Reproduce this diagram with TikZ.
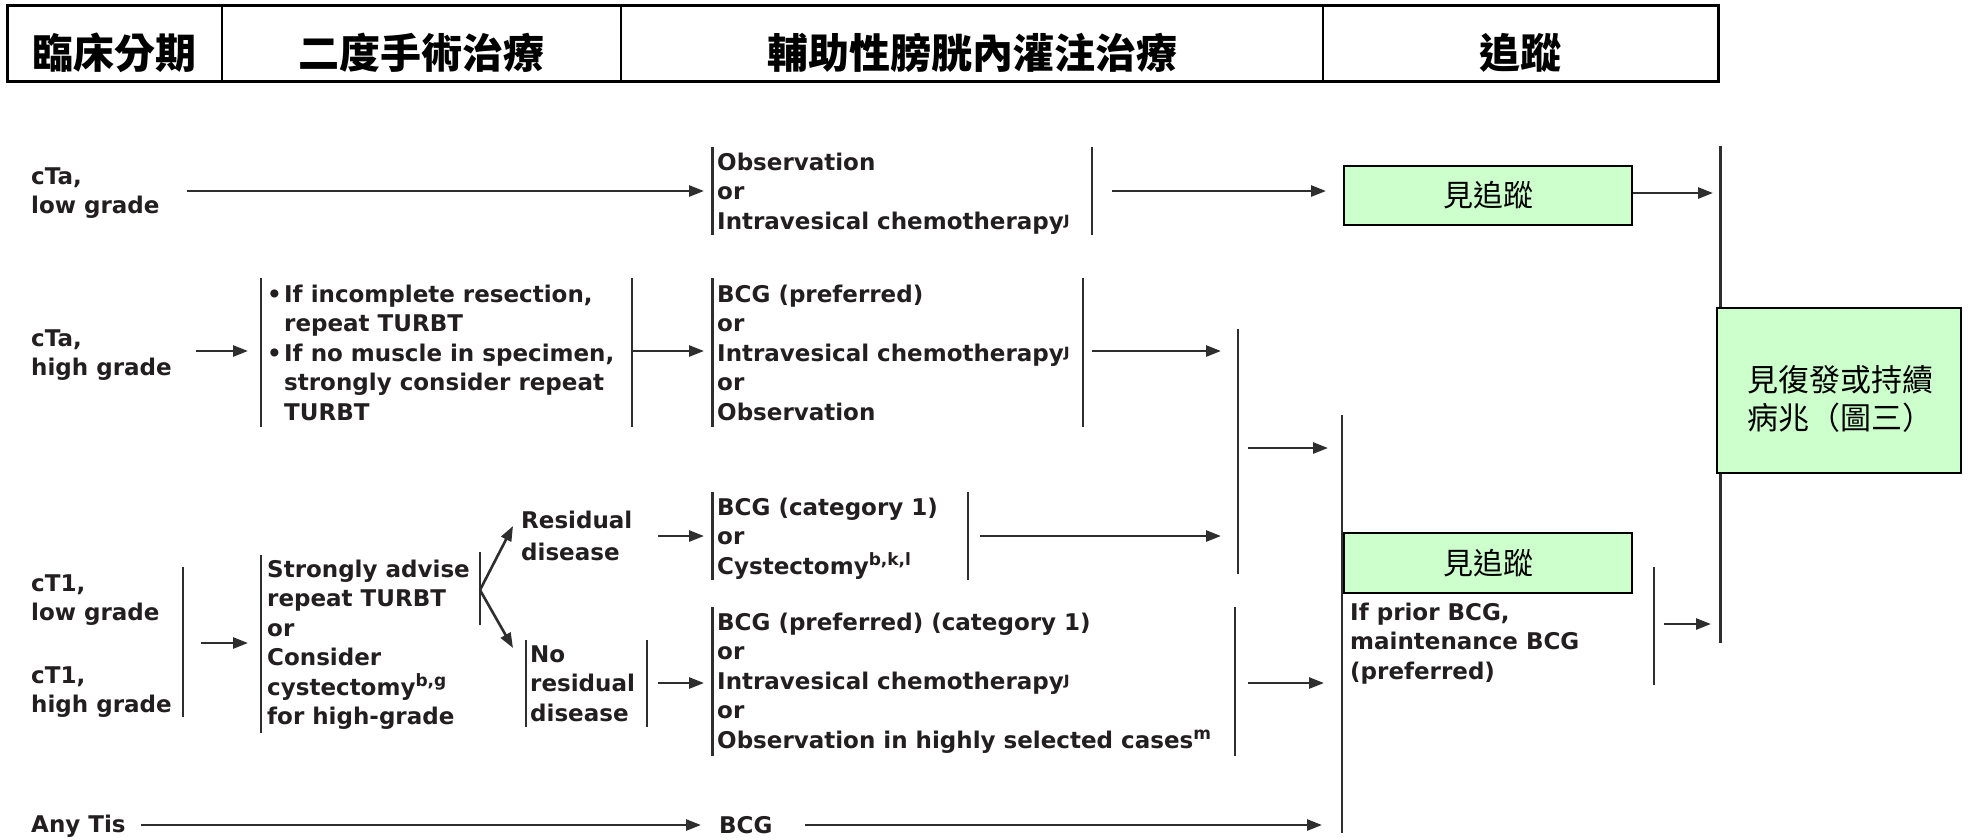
\documentclass[tikz,border=0pt]{standalone}
\usepackage{fontspec}
\setmainfont{DejaVu Sans}
\newfontfamily\cjk{Noto Sans CJK TC}
\usetikzlibrary{arrows.meta}
\definecolor{ink}{HTML}{231F20}
\definecolor{ln}{HTML}{2E2E2E}
\definecolor{gfill}{HTML}{CCFFCC}
\newcommand\bodyfont{\fontsize{23}{29.5}\selectfont\bfseries}
\newcommand\ml[1]{\begin{tabular}[t]{@{}l@{}}#1\end{tabular}}
\newcommand\sups[1]{\smash{\raisebox{8.5pt}{\fontsize{17}{17}\selectfont #1}}}
\newcommand\supj{\smash{\raisebox{5pt}{\fontsize{17}{17}\selectfont ȷ}}}
\begin{document}
\begin{tikzpicture}[x=1pt,y=-1pt,
  arr/.style={draw=ln, line width=2.6pt, -{Triangle[length=15pt,width=11pt]}},
  brk/.style={draw=ln, line width=2.2pt},
  txt/.style={anchor=base west, inner sep=0pt, text=ink, font=\bodyfont},
  gbox/.style={draw=black, line width=2.2pt, fill=gfill, inner sep=0pt},
  hd/.style={anchor=base, inner sep=0pt, text=black, font=\cjk\bfseries\fontsize{41}{41}\selectfont}]
\useasboundingbox (0,0) rectangle (1970,839);
\fill[white] (0,0) rectangle (1970,839);

% header
\draw[line width=3pt] (7,5) rectangle (1718,81);
\draw[line width=2pt] (222,5) -- (222,81) (621,5) -- (621,81) (1323,5) -- (1323,81);
\node[hd] (h1) at (114.5,68) {臨床分期};
\node[hd] (h2) at (421.5,68) {二度手術治療};
\node[hd] (h3) at (972,68) {輔助性膀胱內灌注治療};
\node[hd] (h4) at (1520.5,68) {追蹤};

% stage labels
\node[txt] (s1) at (31,184) {\ml{cTa,\\low grade}};
\node[txt] (s2) at (31,346) {\ml{cTa,\\high grade}};
\node[txt] (s3) at (31,591) {\ml{cT1,\\low grade}};
\node[txt] (s4) at (31,683) {\ml{cT1,\\high grade}};
\node[txt] (s5) at (31,832) {Any Tis};
\draw[brk] (183,567) -- (183,717);

% second surgery
\node[txt] (r2) at (267,302) {\begin{tabular}[t]{@{}l@{}l@{}}\makebox[17pt][l]{•}&If incomplete resection,\\&repeat TURBT\\•&If no muscle in specimen,\\&strongly consider repeat\\&TURBT\end{tabular}};
\draw[brk] (261,278) -- (261,427) (632,278) -- (632,427);
\node[txt] (r3) at (267,577) {\ml{Strongly advise\\repeat TURBT\\or\\Consider\\cystectomy\sups{b,g}\\for high-grade}};
\draw[brk] (261,555) -- (261,733) (480,552) -- (480,625);
\node[txt] (r4) at (521,528) {\ml{Residual\\[2.5pt]disease}};
\node[txt] (r5) at (530,662) {\ml{No\\residual\\disease}};
\draw[brk] (526,640) -- (526,727) (647,640) -- (647,727);

% intravesical
\node[txt] (i1) at (717,170) {\ml{Observation\\or\\Intravesical chemotherapy\supj}};
\draw[brk] (712.5,147) -- (712.5,235) (1092,147) -- (1092,235);
\node[txt] (i2) at (717,302) {\ml{BCG (preferred)\\or\\Intravesical chemotherapy\supj\\or\\Observation}};
\draw[brk] (712.5,278) -- (712.5,427) (1083,278) -- (1083,427);
\node[txt] (i3) at (717,515) {\ml{BCG (category 1)\\or\\Cystectomy\sups{b,k,l}}};
\draw[brk] (712.5,492) -- (712.5,580) (968,492) -- (968,580);
\node[txt] (i4) at (717,630) {\ml{BCG (preferred) (category 1)\\or\\Intravesical chemotherapy\supj\\or\\Observation in highly selected cases\sups{m}}};
\draw[brk] (712.5,607) -- (712.5,756) (1235,607) -- (1235,756);
\node[txt] (i5) at (719,833) {BCG};

% follow-up
\draw[brk] (1238,329) -- (1238,574);
\draw[brk] (1342,415) -- (1342,833);
\draw[brk] (1720.5,146) -- (1720.5,643);
\node[gbox, minimum width=288pt, minimum height=59pt, font=\cjk\fontsize{30}{30}\selectfont] (g1) at (1488,195.5) {見追蹤};
\node[gbox, minimum width=288pt, minimum height=60pt, font=\cjk\fontsize{30}{30}\selectfont] (g2) at (1488,563) {見追蹤};
\node[txt] (f1) at (1350,620) {\ml{If prior BCG,\\maintenance BCG\\(preferred)}};
\draw[brk] (1654,567) -- (1654,685);
\node[gbox, minimum width=244pt, minimum height=165pt] (g3) at (1839,390.5) {};
\node[inner sep=0pt, align=center, font=\cjk\fontsize{31}{38}\selectfont] (g3t) at (1840,399) {見復發或持續\\病兆（圖三）};

% connector coordinates
\coordinate (a1s) at (187,191);  \coordinate (a1e) at (704,191);
\coordinate (a2s) at (1112,191); \coordinate (a2e) at (1326,191);
\coordinate (a3e) at (1713,193);
\coordinate (a4s) at (196,351);  \coordinate (a4e) at (248,351);
\coordinate (a5s) at (632,351);  \coordinate (a5e) at (704,351);
\coordinate (a6s) at (1092,351); \coordinate (a6e) at (1221,351);
\coordinate (a7s) at (1248,448); \coordinate (a7e) at (1328,448);
\coordinate (fan) at (480,590);  \coordinate (fanU) at (513,526); \coordinate (fanD) at (513,648);
\coordinate (a9s) at (658,536);  \coordinate (a9e) at (704,536);
\coordinate (a10s) at (980,536); \coordinate (a10e) at (1221,536);
\coordinate (a11s) at (201,643); \coordinate (a11e) at (248,643);
\coordinate (a12s) at (658,683); \coordinate (a12e) at (704,683);
\coordinate (a13s) at (1248,683); \coordinate (a13e) at (1324,683);
\coordinate (a14s) at (141,825); \coordinate (a14e) at (701,825);
\coordinate (a15s) at (805,825); \coordinate (a15e) at (1322,825);
\coordinate (a16s) at (1664,624); \coordinate (a16e) at (1711,624);

\draw[arr] (a1s) -- (a1e);
\draw[arr] (a2s) -- (a2e);
\draw[arr] (g1.east |- a3e) -- (a3e);
\draw[arr] (a4s) -- (a4e);
\draw[arr] (a5s) -- (a5e);
\draw[arr] (a6s) -- (a6e);
\draw[arr] (a7s) -- (a7e);
\draw[arr] (fan) -- (fanU);
\draw[arr] (fan) -- (fanD);
\draw[arr] (a9s) -- (a9e);
\draw[arr] (a10s) -- (a10e);
\draw[arr] (a11s) -- (a11e);
\draw[arr] (a12s) -- (a12e);
\draw[arr] (a13s) -- (a13e);
\draw[arr] (a14s) -- (a14e);
\draw[arr] (a15s) -- (a15e);
\draw[arr] (a16s) -- (a16e);
\end{tikzpicture}
\end{document}
